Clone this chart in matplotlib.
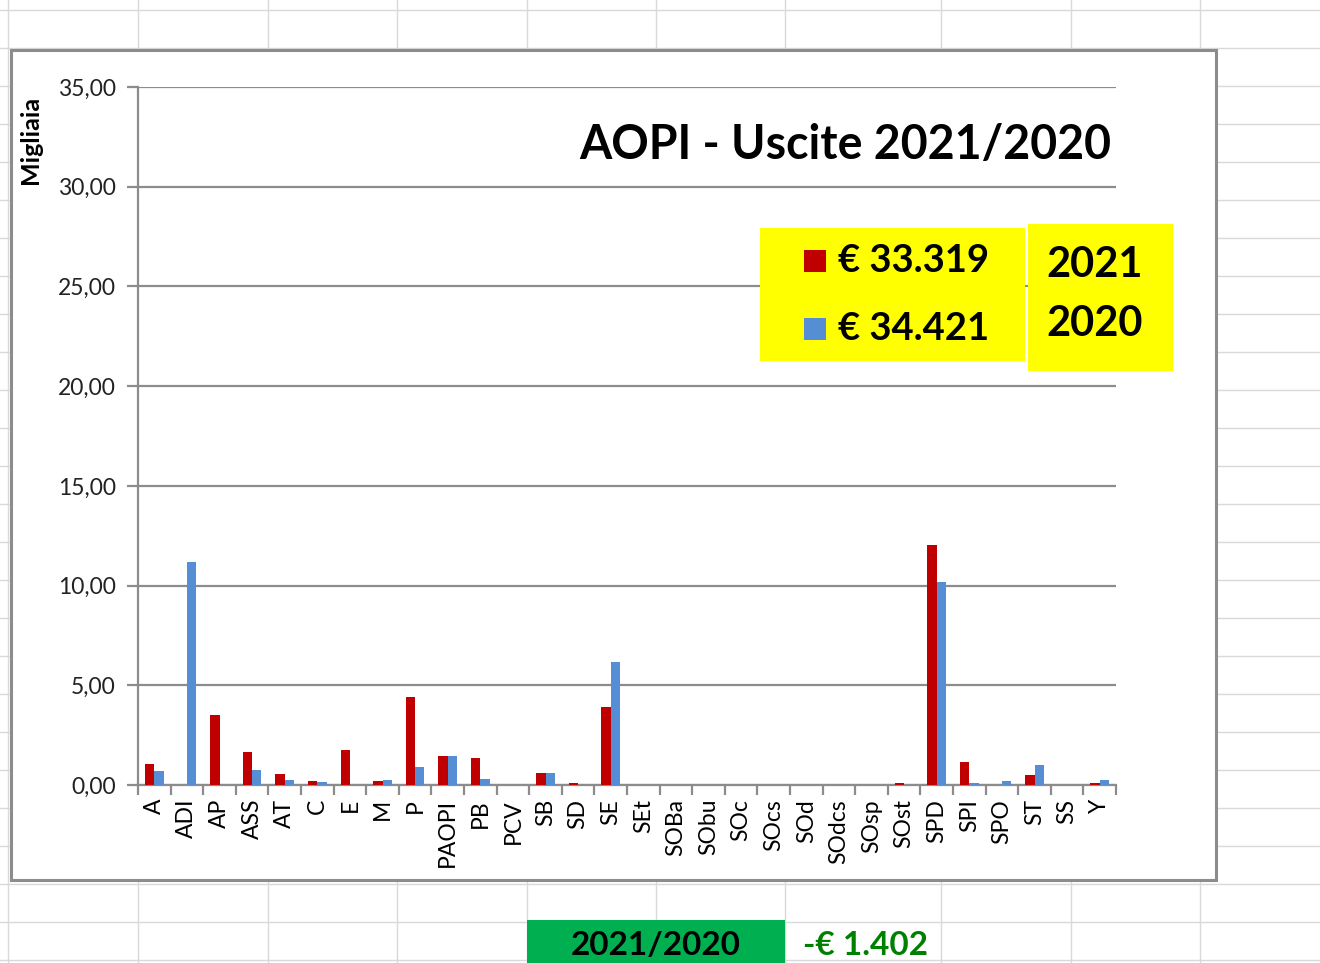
import matplotlib
matplotlib.use("Agg")
import matplotlib.pyplot as plt
from matplotlib.patches import Rectangle
from matplotlib.lines import Line2D
from matplotlib.ticker import FixedLocator, FuncFormatter

plt.rcParams['font.family'] = ['Lato', 'DejaVu Sans']

categories = ["A", "ADI", "AP", "ASS", "AT", "C", "E", "M", "P", "PAOPI", "PB", "PCV",
              "SB", "SD", "SE", "SEt", "SOBa", "SObu", "SOc", "SOcs", "SOd", "SOdcs",
              "SOsp", "SOst", "SPD", "SPI", "SPO", "ST", "SS", "Y"]
values_2021 = [1.04, 0.00, 3.49, 1.64, 0.54, 0.18, 1.74, 0.18, 4.40, 1.47, 1.34, 0.00,
               0.59, 0.08, 3.90, 0.00, 0.00, 0.00, 0.00, 0.00, 0.00, 0.00,
               0.00, 0.08, 12.04, 1.14, 0.00, 0.48, 0.00, 0.08]
values_2020 = [0.69, 11.19, 0.00, 0.74, 0.23, 0.13, 0.00, 0.23, 0.89, 1.47, 0.28, 0.00,
               0.59, 0.00, 6.19, 0.00, 0.00, 0.00, 0.00, 0.00, 0.00, 0.00,
               0.00, 0.00, 10.18, 0.12, 0.18, 0.99, 0.00, 0.23]
y_ticks = [0, 5, 10, 15, 20, 25, 30, 35]
title = "AOPI - Uscite 2021/2020"
legend_values = ["€ 33.319", "€ 34.421"]
legend_years = ["2021", "2020"]
diff_label = "2021/2020"
diff_value = "-€ 1.402"

RED = "#C00000"
BLUE = "#558ED5"
W, H = 1320, 963

fig = plt.figure(figsize=(W / 100, H / 100), dpi=100)
fig.patch.set_facecolor("white")


def fx(x):
    return x / W


def fy(y):
    return 1 - y / H


# spreadsheet grid
gridc = "#D9D9D9"
for xv in [8, 138, 268, 397, 527, 656, 785, 941, 1071, 1200]:
    fig.add_artist(Line2D([fx(xv), fx(xv)], [0, 1], color=gridc, lw=1, zorder=0))
for yv in range(10, 963, 38):
    fig.add_artist(Line2D([fx(0), fx(1320)], [fy(yv), fy(yv)], color=gridc, lw=1, zorder=0))

# chart frame
fig.add_artist(Rectangle((fx(11), fy(880)), fx(1216) - fx(11), fy(50) - fy(880),
                         facecolor="white", edgecolor="#8C8C8C", lw=2.2, zorder=1))

ax = fig.add_axes([fx(138), fy(785), fx(1116) - fx(138), fy(87) - fy(785)], zorder=2)
ax.set_facecolor("none")

n = len(categories)
xs = list(range(n))
bw = 1 / 3.5
ax.bar([x - bw / 2 for x in xs], values_2021, width=bw, color=RED, zorder=3)
ax.bar([x + bw / 2 for x in xs], values_2020, width=bw, color=BLUE, zorder=3)

ax.set_xlim(-0.5, n - 0.5)
ax.set_ylim(0, 35)
ax.set_yticks(y_ticks)
ax.yaxis.set_major_formatter(FuncFormatter(lambda v, p: f"{v:.2f}".replace(".", ",")))
ax.grid(axis="y", color="#8C8C8C", lw=1.6, zorder=1)
ax.set_axisbelow(True)

ax.set_xticks(xs)
ax.set_xticklabels(categories, rotation=90, fontsize=16.5)
ax.xaxis.set_minor_locator(FixedLocator([x + 0.5 for x in range(-1, n)]))
ax.tick_params(axis="x", which="major", length=0, pad=10)
ax.tick_params(axis="x", which="minor", length=7, width=1.6, color="#8C8C8C")
ax.tick_params(axis="y", length=8, width=1.6, color="#8C8C8C", labelsize=16.5, pad=8)
for lab in ax.get_yticklabels():
    lab.set_color("#222222")

for s in ["top", "right"]:
    ax.spines[s].set_visible(False)
ax.spines["left"].set_color("#8C8C8C")
ax.spines["left"].set_linewidth(1.6)
ax.spines["bottom"].set_color("#8C8C8C")
ax.spines["bottom"].set_linewidth(1.6)

# y label
fig.text(fx(30), fy(140), "Migliaia", rotation=90, ha="center", va="center",
         fontsize=18, fontweight="bold", zorder=5)

# title
fig.text(fx(1111), fy(145), title, ha="right", va="center", fontsize=33.5,
         fontweight="bold", zorder=5)

# legend boxes
fig.add_artist(Rectangle((fx(760), fy(361)), fx(1025) - fx(760), fy(228) - fy(361),
                         facecolor="#FFFF00", edgecolor="none", zorder=4))
fig.add_artist(Rectangle((fx(1028), fy(371)), fx(1173) - fx(1028), fy(224) - fy(371),
                         facecolor="#FFFF00", edgecolor="none", zorder=4))
for (yc, col, txt) in [(261, RED, legend_values[0]), (329, BLUE, legend_values[1])]:
    fig.add_artist(Rectangle((fx(804), fy(yc + 11)), fx(826) - fx(804), fy(yc - 11) - fy(yc + 11),
                             facecolor=col, edgecolor="none", zorder=5))
    fig.text(fx(838), fy(yc), txt, ha="left", va="center", fontsize=27.5,
             fontweight="bold", zorder=6)
for (yc, txt) in [(265, legend_years[0]), (324, legend_years[1])]:
    fig.text(fx(1095), fy(yc), txt, ha="center", va="center", fontsize=30,
             fontweight="bold", zorder=6)

# bottom cells
fig.add_artist(Rectangle((fx(527), fy(963)), fx(785) - fx(527), fy(920) - fy(963),
                         facecolor="#00B050", edgecolor="none", zorder=4))
fig.text(fx(656), fy(945), diff_label, ha="center", va="center", fontsize=24,
         fontweight="bold", zorder=5)
fig.text(fx(803), fy(945), diff_value, ha="left", va="center", fontsize=24,
         fontweight="bold", color="#008000", zorder=5)

fig.savefig("out.png", dpi=100)
